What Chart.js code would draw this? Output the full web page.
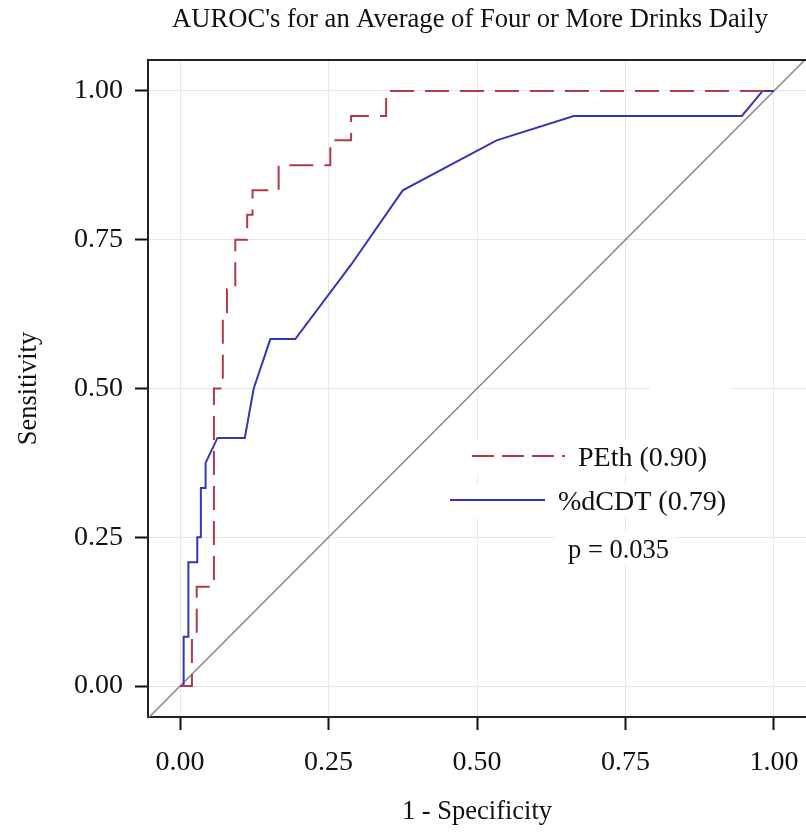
<!DOCTYPE html>
<html>
<head>
<meta charset="utf-8">
<script src="https://cdn.jsdelivr.net/npm/chart.js@4/dist/chart.umd.min.js"></script>
<style>
  html, body { margin: 0; padding: 0; background: #fff; }
  canvas { display: block; }
</style>
</head>
<body>
<canvas id="roc" width="806" height="835"></canvas>
<script>
// ROC curves
const pethX = [0, 0.02, 0.02, 0.028, 0.028, 0.057, 0.057, 0.072, 0.072, 0.079, 0.079, 0.093, 0.093, 0.113, 0.113, 0.122, 0.122, 0.166, 0.166, 0.253, 0.253, 0.288, 0.288, 0.347, 0.347, 1.0];
const pethY = [0, 0, 0.083, 0.083, 0.167, 0.167, 0.5, 0.5, 0.625, 0.625, 0.667, 0.667, 0.75, 0.75, 0.792, 0.792, 0.833, 0.833, 0.875, 0.875, 0.917, 0.917, 0.958, 0.958, 1.0, 1.0];

const cdtX = [0, 0.006, 0.006, 0.014, 0.014, 0.029, 0.029, 0.035, 0.035, 0.043, 0.043, 0.063, 0.109, 0.124, 0.152, 0.194, 0.288, 0.375, 0.533, 0.663, 0.946, 0.981, 1.0];
const cdtY = [0, 0, 0.083, 0.083, 0.208, 0.208, 0.25, 0.25, 0.333, 0.333, 0.375, 0.417, 0.417, 0.5, 0.583, 0.583, 0.708, 0.833, 0.917, 0.958, 0.958, 1.0, 1.0];

const refLine = [-0.06, 1.06];
const tickValues = [0, 0.25, 0.5, 0.75, 1.0];

const chartTitle = "AUROC's for an Average of Four or More Drinks Daily";
const legendItems = ['PEth (0.90)', '%dCDT (0.79)'];
const pValueText = 'p = 0.035';

const RED = '#b03a48';
const BLUE = '#3535b8';
const SERIF = '"Liberation Serif", "Times New Roman", serif';

const toPoints = (xs, ys) => xs.map((x, i) => ({ x, y: ys[i] }));

// title, white boxes behind the legend text, then the legend itself
const legendPlugin = {
    id: 'rocLegend',
    beforeDatasetsDraw(chart) {
        const c = chart.ctx;
        c.save();
        c.fillStyle = '#fff';
        c.fillRect(468, 440, 250, 34);
        c.fillRect(446, 484, 284, 34);
        c.fillRect(555, 530, 121, 36);
        c.fillRect(650, 381, 80, 16);
        c.restore();
    },
    afterDatasetsDraw(chart) {
        const c = chart.ctx;
        const a = chart.chartArea;
        c.save();
        // frame top edge
        c.strokeStyle = '#222';
        c.lineWidth = 2;
        c.beginPath();
        c.moveTo(a.left, a.top);
        c.lineTo(a.right, a.top);
        c.stroke();

        c.fillStyle = '#111';
        c.font = '26.6px ' + SERIF;
        c.textAlign = 'center';
        c.textBaseline = 'alphabetic';
        c.fillText(chartTitle, 470, 27);

        c.lineWidth = 2;
        c.strokeStyle = RED;
        c.setLineDash([22, 8]);
        c.beginPath();
        c.moveTo(472, 456);
        c.lineTo(565, 456);
        c.stroke();

        c.strokeStyle = BLUE;
        c.setLineDash([]);
        c.beginPath();
        c.moveTo(450, 500);
        c.lineTo(545, 500);
        c.stroke();

        c.textAlign = 'left';
        c.font = '28px ' + SERIF;
        c.fillText(legendItems[0], 578, 466);
        c.fillText(legendItems[1], 558, 510);
        c.font = '26.5px ' + SERIF;
        c.fillText(pValueText, 568, 558);
        c.restore();
    }
};

function fixTicks(scale) {
    scale.ticks = tickValues.map(v => ({ value: v }));
}

new Chart(document.getElementById('roc'), {
    type: 'line',
    data: {
        datasets: [
            {
                label: 'ref',
                data: toPoints(refLine, refLine),
                borderColor: '#888',
                borderWidth: 1.5,
                pointRadius: 0,
                order: 3
            },
            {
                label: legendItems[1],
                data: toPoints(cdtX, cdtY),
                borderColor: BLUE,
                borderWidth: 2,
                pointRadius: 0,
                order: 2
            },
            {
                label: legendItems[0],
                data: toPoints(pethX, pethY),
                borderColor: RED,
                borderWidth: 2,
                borderDash: [24, 11],
                pointRadius: 0,
                order: 1
            }
        ]
    },
    options: {
        responsive: false,
        animation: false,
        devicePixelRatio: 1,
        layout: { padding: { top: 60, left: 0, right: 0, bottom: 0 } },
        plugins: {
            legend: { display: false },
            tooltip: { enabled: false },
            title: { display: false }
        },
        scales: {
            x: {
                type: 'linear',
                min: -0.054,
                max: 1.054,
                afterBuildTicks: fixTicks,
                afterFit(s) { s.height = 118; s.paddingLeft = 0; s.paddingRight = 0; },
                grid: { color: '#e8e8e8', lineWidth: 1, tickColor: '#111', tickLength: 13, tickWidth: 2 },
                border: { color: '#222', width: 2 },
                ticks: {
                    color: '#111',
                    padding: 16,
                    font: { family: SERIF, size: 28 },
                    callback: v => v.toFixed(2)
                },
                title: {
                    display: true,
                    text: '1 - Specificity',
                    color: '#111',
                    font: { family: SERIF, size: 26.5 },
                    padding: { top: 0, bottom: 7 }
                }
            },
            y: {
                type: 'linear',
                min: -0.052,
                max: 1.052,
                afterBuildTicks: fixTicks,
                afterFit(s) { s.width = 148; s.paddingTop = 0; s.paddingBottom = 0; },
                grid: { color: '#e8e8e8', lineWidth: 1, tickColor: '#111', tickLength: 13, tickWidth: 2 },
                border: { color: '#222', width: 2 },
                ticks: {
                    color: '#111',
                    padding: 12,
                    font: { family: SERIF, size: 28 },
                    callback: v => v.toFixed(2)
                },
                title: {
                    display: true,
                    text: 'Sensitivity',
                    color: '#111',
                    font: { family: SERIF, size: 26.5 },
                    padding: { top: 13, bottom: 0 }
                }
            }
        }
    },
    plugins: [legendPlugin]
});
</script>
</body>
</html>
